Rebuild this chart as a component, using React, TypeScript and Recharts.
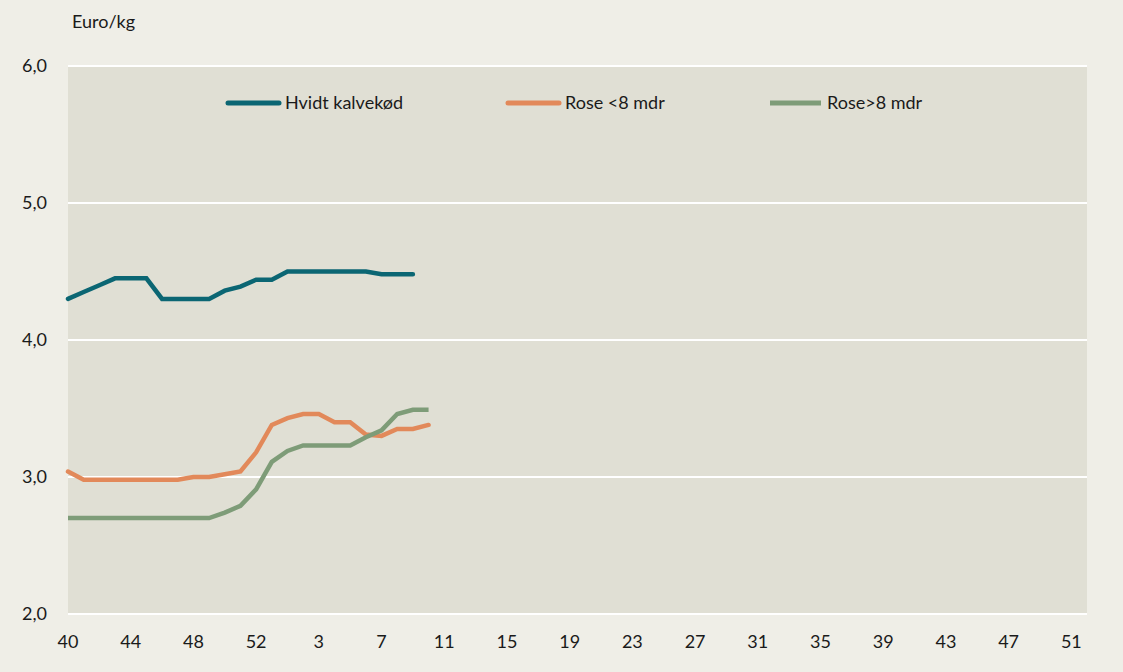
import React from "react";
import { LineChart, Line, XAxis, YAxis, CartesianGrid } from "recharts";

const weeks = [
  "40","41","42","43","44","45","46","47","48","49","50","51","52","53",
  "1","2","3","4","5","6","7","8","9","10","11","12","13","14","15","16","17","18","19","20",
  "21","22","23","24","25","26","27","28","29","30","31","32","33","34","35","36","37","38","39","40",
  "41","42","43","44","45","46","47","48","49","50","51","52",
];

const hvidt = [4.30, 4.35, 4.40, 4.45, 4.45, 4.45, 4.30, 4.30, 4.30, 4.30, 4.36, 4.39, 4.44, 4.44, 4.50, 4.50, 4.50, 4.50, 4.50, 4.50, 4.48, 4.48, 4.48];
const roseUnder8 = [3.04, 2.98, 2.98, 2.98, 2.98, 2.98, 2.98, 2.98, 3.00, 3.00, 3.02, 3.04, 3.18, 3.38, 3.43, 3.46, 3.46, 3.40, 3.40, 3.31, 3.30, 3.35, 3.35, 3.38];
const roseOver8 = [2.70, 2.70, 2.70, 2.70, 2.70, 2.70, 2.70, 2.70, 2.70, 2.70, 2.74, 2.79, 2.91, 3.11, 3.19, 3.23, 3.23, 3.23, 3.23, 3.29, 3.34, 3.46, 3.49, 3.49];

const yTicks = [2, 3, 4, 5, 6];

const seriesNames = ["Hvidt kalvekød", "Rose <8 mdr", "Rose>8 mdr"];
const colors = ["#0B6673", "#E2895A", "#7E9C78"];

const data = weeks.map((w, i) => ({
  week: w,
  hvidt: i < hvidt.length ? hvidt[i] : null,
  roseUnder8: i < roseUnder8.length ? roseUnder8[i] : null,
  roseOver8: i < roseOver8.length ? roseOver8[i] : null,
}));

const FONT = "Lato, 'Open Sans', sans-serif";

const legendItems = [
  { name: seriesNames[0], color: colors[0], x: 226, cap: "round" },
  { name: seriesNames[1], color: colors[1], x: 506, cap: "round" },
  { name: seriesNames[2], color: colors[2], x: 768, cap: "butt" },
];

export default function App() {
  return (
    <div style={{ position: "absolute", left: 0, top: 0, width: 1123, height: 672, background: "#EFEEE7", fontFamily: FONT }}>
      <div style={{ position: "absolute", left: 72, top: 10, fontSize: 18, color: "#1a1a1a" }}>Euro/kg</div>
      <LineChart width={1123} height={672} data={data} margin={{ top: 66, right: 36, bottom: 28, left: 8 }}>
        <CartesianGrid vertical={false} horizontal={true} stroke="#FFFFFF" strokeWidth={2} fill="#E0DFD4" />
        <XAxis
          dataKey="week"
          interval={3}
          tickLine={false}
          axisLine={false}
          height={30}
          tick={{ fontSize: 18, fill: "#1a1a1a", fontFamily: FONT }}
          tickMargin={15}
        />
        <YAxis
          domain={[2, 6]}
          ticks={yTicks}
          width={60}
          tickLine={false}
          axisLine={false}
          tickFormatter={(v: number) => v.toFixed(1).replace(".", ",")}
          tick={{ fontSize: 18, fill: "#1a1a1a", fontFamily: FONT }}
          tickMargin={15}
        />
        <Line type="linear" dataKey="hvidt" name={seriesNames[0]} stroke={colors[0]} strokeWidth={4.5} dot={false} isAnimationActive={false} strokeLinecap="round" />
        <Line type="linear" dataKey="roseUnder8" name={seriesNames[1]} stroke={colors[1]} strokeWidth={4.5} dot={false} isAnimationActive={false} strokeLinecap="round" />
        <Line type="linear" dataKey="roseOver8" name={seriesNames[2]} stroke={colors[2]} strokeWidth={4.5} dot={false} isAnimationActive={false} />
      </LineChart>
      <svg width={1123} height={30} style={{ position: "absolute", left: 0, top: 88, display: "block" }}>
        {legendItems.map((it) => (
          <g key={it.name}>
            <line x1={it.x + 2} y1={15} x2={it.x + 53} y2={15} stroke={it.color} strokeWidth={5} strokeLinecap={it.cap as any} />
            <text x={it.x + 59} y={21} fontSize={18} fill="#1a1a1a" fontFamily={FONT}>{it.name}</text>
          </g>
        ))}
      </svg>
    </div>
  );
}
